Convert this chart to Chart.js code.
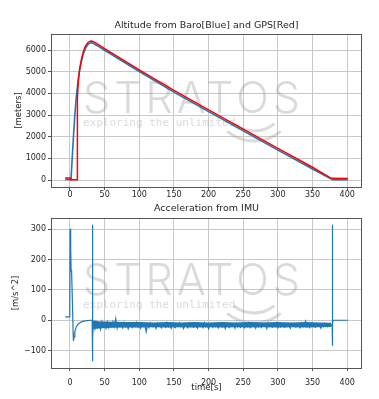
<!DOCTYPE html>
<html>
<head>
<meta charset="utf-8">
<script src="https://cdn.jsdelivr.net/npm/chart.js@4.4.0/dist/chart.umd.min.js"></script>
<style>
    html, body { margin: 0; padding: 0; background: #fff; }
    #wrap { position: relative; width: 379px; height: 399px; }
    .box { position: absolute; left: 0; width: 379px; }
</style>
</head>
<body>
<div id="wrap">
    <div class="box" style="top:0;height:200px"><canvas id="alt-chart"></canvas></div>
    <div class="box" style="top:200px;height:199px"><canvas id="acc-chart"></canvas></div>
</div>
<script>
// tick labels
const X_TICKS = [0, 50, 100, 150, 200, 250, 300, 350, 400];
const ALT_TICKS = [0, 1000, 2000, 3000, 4000, 5000, 6000];
const ACC_TICKS = [-100, 0, 100, 200, 300];

// altitude from barometer [s, m]
const baroTime = [-7, 1.5, 3, 5, 7, 9, 11, 13, 16, 19, 22, 25, 28, 31, 34, 40, 50, 100, 150, 200, 250, 300, 350, 379, 401];
const baroAlt  = [25, 20, 900, 2000, 3000, 3800, 4400, 4900, 5400, 5800, 6050, 6220, 6310, 6340, 6300, 6190, 5990, 5010, 4060, 3160, 2270, 1380, 510, 15, 15];

// altitude from GPS [s, m]
const gpsTime = [-7, 0.3, 0.8, 10.4, 10.7, 12, 14, 17, 20, 23, 26, 29, 31, 34, 40, 50, 100, 150, 200, 250, 300, 350, 377, 401];
const gpsAlt  = [95, 95, 10, 10, 3800, 4550, 5150, 5650, 6000, 6220, 6350, 6410, 6420, 6390, 6270, 6070, 5090, 4140, 3240, 2350, 1460, 590, 80, 70];

// acceleration: launch + burn + ejection
const accelTime = [-7, -0.3, 0.2, 1, 1.6, 2.4, 3.5, 4.5, 5, 5.8, 7, 9, 12, 16, 20, 25, 30, 32, 32.3, 32.6, 33, 33.5];
const accelVal  = [11, 11, 302, 235, 165, 155, 60, -40, -68, -55, -38, -22, -12, -6, -3, -1, 0, 0, 315, -135, -60, -20];

// acceleration under parachute, one reading every 2 s from t = 34
const descentStart = 34;
const descentStep = 2;
const descentAccel = [
    -3, -28, -8, -25, -12, -30, -5, -22, -18, -27, -6, -24, -10, -20, -4,
    -21, 5, -26, -9, -19, -14, -25, -8, -22, -16, -28, -10, -18, -24, -12, -20, -7, -23, -15, -26,
    -11, -21, -17, -38, -13, -24, -9, -19, -22, -14, -27, -10, -20, -16, -25, -12, -18, -23, -8, -21,
    -15, -26, -11, -19, -24, -13, -20, -9, -22, -17, -27, -12, -18, -25, -10, -21, -16, -23, -14, -19,
    -26, -11, -20, -15, -24, -9, -22, -18, -28, -13, -17, -23, -10, -21, -15, -25, -12, -19, -22, -14,
    -27, -11, -18, -24, -13, -20, -16, -26, -10, -22, -17, -23, -12, -19, -25, -14, -21, -9, -24, -16,
    -20, -13, -26, -11, -22, -17, -24, -12, -19, -15, -27, -10, -21, -18, -23, -14, -20, -9, -25, -16,
    -22, -12, -19, -24, -14, -21, -17, -26, -11, -20, -15, -23, -13, -18, -25, -10, -21, -16, -3, -22,
    -14, -24, -11, -19, -17, -23, -12, -20, -15, -26, -13, -21, -10, -18, -22, -14, -19, -16
];

// dense part of the noise band (upper / lower edge)
const bandTime = [33.5, 40, 60, 80, 100, 120, 140, 160, 180, 200, 220, 240, 260, 280, 300, 320, 340, 360, 377];
const bandHigh = [0, -3, -5, -6, -6, -7, -6, -7, -6, -7, -6, -7, -6, -7, -6, -7, -6, -7, -8];
const bandLow  = [-30, -27, -25, -24, -24, -23, -24, -23, -24, -23, -24, -23, -24, -23, -24, -23, -24, -23, -22];

// acceleration: landing
const landTime = [378.3, 378.5, 378.8, 379.2, 379.6, 401];
const landVal  = [-10, 315, -84, -10, 0, 0];

const BLUE = '#1f77b4';
const RED = '#ff0000';
const TEXT = '#262626';

function pairs(xs, ys) {
    return xs.map((x, i) => ({ x: x, y: ys[i] }));
}

const accelData = pairs(accelTime, accelVal)
    .concat(descentAccel.map((v, i) => ({ x: descentStart + i * descentStep, y: v })))
    .concat(pairs(landTime, landVal));

function tickLabel(v) {
    return v < 0 ? '\u2212' + Math.abs(v) : String(v);
}

// frame, titles and the STRATOS watermark
const framePlugin = {
    id: 'frame',
    beforeDatasetsDraw(chart, args, opts) {
        const ctx = chart.ctx;
        const base = opts.markBase;
        ctx.save();
        ctx.fillStyle = 'rgba(150, 150, 150, 0.35)';
        ctx.strokeStyle = 'rgba(150, 150, 150, 0.35)';
        ctx.font = '300 43px Inter';
        ctx.letterSpacing = '0px';
        const w = ctx.measureText('STRATOS').width;
        ctx.letterSpacing = ((217 - w) / 6) + 'px';
        ctx.textBaseline = 'alphabetic';
        ctx.fillText('STRATOS', 83, base);
        ctx.letterSpacing = '0px';
        ctx.font = '11px "DejaVu Sans Mono"';
        ctx.textBaseline = 'middle';
        ctx.fillText('exploring the unlimited', 83, base + 10);
        ctx.lineWidth = 3;
        [32, 42].forEach(r => {
            ctx.beginPath();
            ctx.arc(254, base - 14, r, 0.28 * Math.PI, 0.72 * Math.PI);
            ctx.stroke();
        });
        ctx.restore();
    },
    afterDraw(chart, args, opts) {
        const ctx = chart.ctx;
        const a = chart.chartArea;
        ctx.save();
        ctx.strokeStyle = '#555';
        ctx.lineWidth = 1;
        ctx.strokeRect(Math.round(a.left) + 0.5, Math.round(a.top) + 0.5,
            Math.round(a.right - a.left) - 1, Math.round(a.bottom - a.top));
        ctx.fillStyle = TEXT;
        ctx.textAlign = 'center';
        ctx.textBaseline = 'middle';
        ctx.font = '9.5px "DejaVu Sans"';
        ctx.fillText(opts.title, (a.left + a.right) / 2, opts.titleY);
        ctx.font = '8.5px "DejaVu Sans"';
        if (opts.xLabel) {
            ctx.fillText(opts.xLabel, (a.left + a.right) / 2, opts.xLabelY);
        }
        ctx.translate(opts.yLabelX, (a.top + a.bottom) / 2);
        ctx.rotate(-Math.PI / 2);
        ctx.fillText(opts.yLabel, 0, 0);
        ctx.restore();
    }
};

function axis(min, max, ticks, fit, pad) {
    return {
        type: 'linear',
        min: min,
        max: max,
        afterBuildTicks: scale => { scale.ticks = ticks.map(v => ({ value: v })); },
        afterFit: fit,
        grid: { color: '#c8c8c8', lineWidth: 1, tickLength: 3, tickColor: '#555' },
        border: { display: false },
        ticks: {
            color: TEXT,
            font: { family: 'DejaVu Sans', size: 8 },
            padding: pad,
            autoSkip: false,
            maxRotation: 0,
            callback: tickLabel
        }
    };
}

function makeChart(id, datasets, yMin, yMax, yTicks, xHeight, xPad, padTop, frame) {
    const x = axis(-27.4, 421.4, X_TICKS, s => { s.height = xHeight; }, xPad);
    const y = axis(yMin, yMax, yTicks, s => { s.width = 51; }, 2);
    return new Chart(document.getElementById(id), {
        type: 'line',
        data: { datasets: datasets },
        options: {
            responsive: true,
            maintainAspectRatio: false,
            animation: false,
            devicePixelRatio: 1,
            parsing: false,
            layout: { padding: { left: 0, right: 17, top: padTop, bottom: 0 } },
            plugins: {
                legend: { display: false },
                tooltip: { enabled: false },
                frame: frame
            },
            scales: { x: x, y: y }
        },
        plugins: [framePlugin]
    });
}

makeChart('alt-chart', [
    {
        label: 'Baro',
        data: pairs(baroTime, baroAlt),
        borderColor: BLUE,
        borderWidth: 1.6,
        pointRadius: 0,
        tension: 0,
        order: 1
    },
    {
        label: 'GPS',
        data: pairs(gpsTime, gpsAlt),
        borderColor: RED,
        borderWidth: 1.5,
        pointRadius: 0,
        tension: 0,
        order: 0
    }
], -321, 6741, ALT_TICKS, 13, 0, 34, {
    title: 'Altitude from Baro[Blue] and GPS[Red]',
    titleY: 26,
    yLabel: '[meters]',
    yLabelX: 19,
    markBase: 113
});

makeChart('acc-chart', [
    {
        label: 'band high',
        data: pairs(bandTime, bandHigh),
        borderWidth: 0,
        pointRadius: 0,
        fill: false
    },
    {
        label: 'band low',
        data: pairs(bandTime, bandLow),
        borderWidth: 0,
        pointRadius: 0,
        backgroundColor: BLUE,
        fill: '-1'
    },
    {
        label: 'IMU',
        data: accelData,
        borderColor: BLUE,
        borderWidth: 1.2,
        pointRadius: 0,
        tension: 0
    }
], -157.5, 337.5, ACC_TICKS, 31, 7, 18, {
    title: 'Acceleration from IMU',
    titleY: 9,
    xLabel: 'time[s]',
    xLabelY: 188,
    yLabel: '[m/s^2]',
    yLabelX: 16,
    markBase: 95
});
</script>
</body>
</html>
